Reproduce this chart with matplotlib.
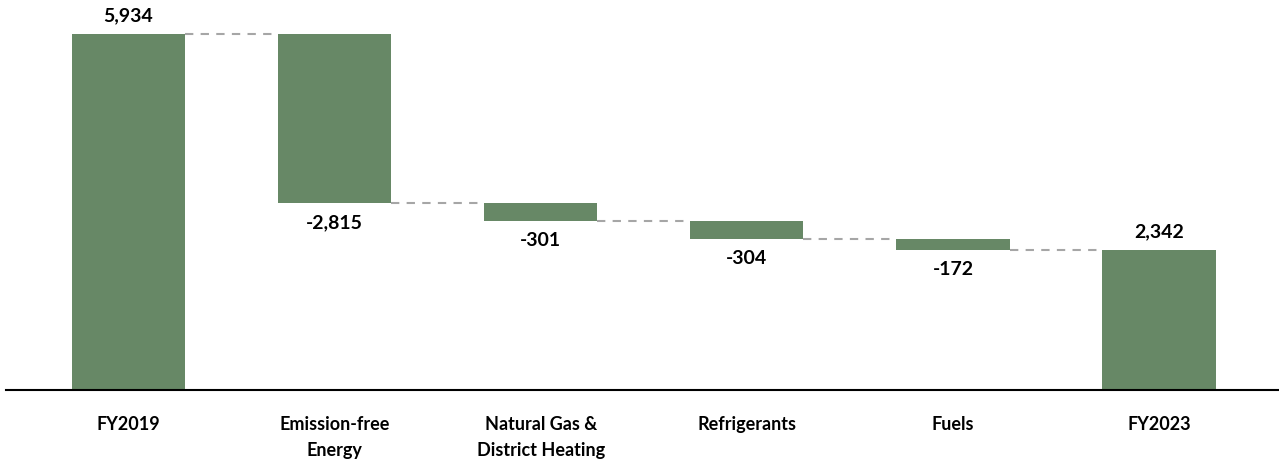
import matplotlib.pyplot as plt

plt.rcParams['font.family'] = ['Lato', 'DejaVu Sans']

categories = ["FY2019", "Emission-free\nEnergy", "Natural Gas &\nDistrict Heating",
              "Refrigerants", "Fuels", "FY2023"]
values = [5934, -2815, -301, -304, -172, 2342]
is_total = [True, False, False, False, False, True]

green = "#678866"

fig = plt.figure(figsize=(12.79, 4.65), dpi=100)
ax = fig.add_axes([6 / 1279, 75 / 465, 1273 / 1279, 390 / 465])

w = 0.55
running = 0
for i, (v, tot) in enumerate(zip(values, is_total)):
    if tot:
        b, h = 0, v
        running = v
    else:
        b, h = running + v, -v
        running = running + v
    ax.bar(i, h, bottom=b, width=w, color=green)
    if v >= 0:
        ax.annotate(f"{v:,}", (i, b + h), xytext=(0, 7), textcoords="offset points",
                    ha="center", va="bottom", fontsize=14, fontweight="bold")
    else:
        ax.annotate(f"-{abs(v):,}", (i, b), xytext=(0, -8), textcoords="offset points",
                    ha="center", va="top", fontsize=14, fontweight="bold")

# connectors between bars at the running level
level = 0
for i in range(len(values) - 1):
    level = values[i] if is_total[i] else level + values[i]
    ax.plot([i + w / 2, i + 1 - w / 2], [level, level], color="#a6a6a6",
            lw=1.5, ls=(0, (4, 3.5)))

ax.set_xlim(-0.594, 5.582)
ax.set_ylim(0, 6501)
ax.set_xticks(range(len(categories)))
ax.set_xticklabels(categories, fontsize=13, fontweight="bold", linespacing=1.65)
ax.tick_params(axis="x", length=0, pad=19)
ax.set_yticks([])
for s in ["top", "right", "left"]:
    ax.spines[s].set_visible(False)
ax.spines["bottom"].set_linewidth(1.5)

fig.savefig("out.png", dpi=100)
